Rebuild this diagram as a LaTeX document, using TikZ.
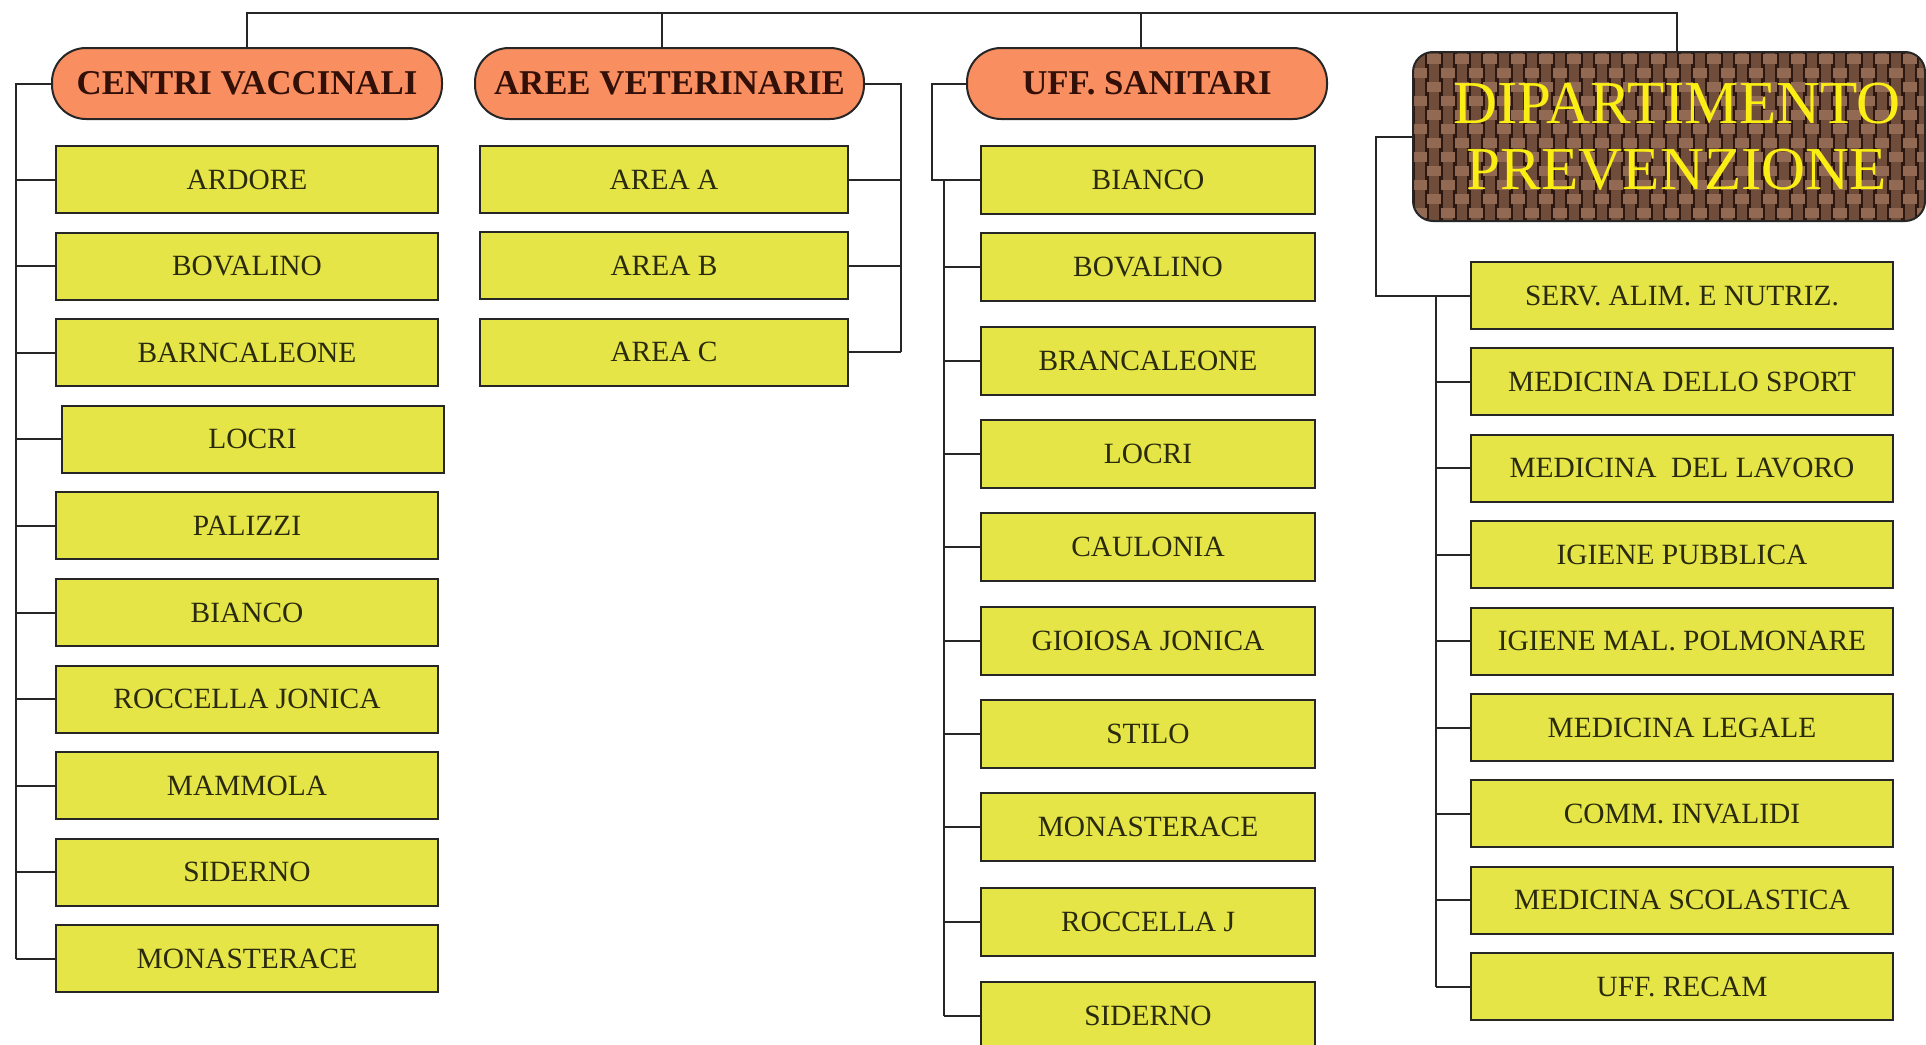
\documentclass[tikz,border=0pt]{standalone}
\usepackage{fontspec}
\setmainfont{Liberation Serif}
\definecolor{boxyellow}{RGB}{229,229,72}
\definecolor{pillorange}{RGB}{249,142,96}
\definecolor{weavedark}{RGB}{44,24,16}
\definecolor{weavemid}{RGB}{112,76,58}
\definecolor{weavelight}{RGB}{146,106,84}
\definecolor{deptyellow}{RGB}{250,238,20}
\definecolor{officetext}{RGB}{42,42,14}
\definecolor{pilltext}{RGB}{50,16,8}

\begin{document}
\begin{tikzpicture}[x=0.5pt,y=-0.5pt]
  \tikzstyle{every node}+=[inner sep=0pt]
  \tikzstyle{wire}=[line width=1pt,black!85]
  \tikzstyle{pill}=[draw=black!85,line width=1pt,fill=pillorange,rounded corners=17pt,minimum height=35.5pt,
    text=pilltext,font=\fontsize{17.4}{20}\selectfont\bfseries]
  \tikzstyle{office}=[draw=black!85,line width=1pt,fill=boxyellow,minimum height=33.5pt,
    text=officetext,font=\fontsize{14.7}{17}\selectfont]
  \tikzstyle{dept}=[draw=black!85,line width=1pt,rounded corners=10pt,align=center,text=deptyellow,
    font=\fontsize{30.5}{33}\selectfont]
  \clip (0,0) rectangle (1926,1044);
  \fill[white] (0,0) rectangle (1926,1044);

  % headings
  \node[pill,minimum width=195pt] (cv) at (247,83.5) {CENTRI VACCINALI};
  \node[pill,minimum width=194.5pt] (av) at (669.5,83.5) {AREE VETERINARIE};
  \node[pill,minimum width=180pt] (us) at (1147,83.5) {UFF. SANITARI};

  % woven background of the department box
  \begin{scope}
    \clip[rounded corners=10pt] (1413,52) rectangle (1925,221);
    \fill[weavedark] (1400,40) rectangle (1940,235);
    \foreach \x in {1420,1434,...,1926}
      \draw[weavemid,line width=5pt] (\x,40) -- (\x,235);
    \foreach \y [count=\k] in {59,73,...,226} {
      \pgfmathsetmacro\ph{mod(\k,2)*7}
      \draw[weavelight,line width=5pt,dash pattern=on 7pt off 7pt,dash phase=\ph pt] (1413,\y) -- (1940,\y);
    }
  \end{scope}
  \node[dept,minimum width=256pt,minimum height=84.5pt] (dp) at (1669,136.5) {\hspace*{8pt}DIPARTIMENTO\\\hspace*{8pt}PREVENZIONE};

  % top bar
  \coordinate (barl) at (247,13);
  \coordinate (barr) at (1677,13);
  \draw[wire] (cv.north) -- (barl) -- (barr) -- ([xshift=4pt]dp.north);
  \draw[wire] ([xshift=-3.75pt]av.north) |- (barl);
  \draw[wire] ([xshift=-3pt]us.north) |- (barl);

  % centri vaccinali
  \coordinate (cvbus) at (16,0);
  \foreach \name [count=\i] in {ARDORE,BOVALINO,BARNCALEONE,LOCRI,PALIZZI,BIANCO,ROCCELLA JONICA,MAMMOLA,SIDERNO,MONASTERACE} {
    \pgfmathsetmacro\dx{\i==4 ? 5.5 : 0}
    \node[office,minimum width=191pt] (cv\i) at (247+\dx,179.5+86.6*\i-86.6) {\name};
    \draw[wire] (cvbus |- cv\i.west) -- (cv\i.west);
  }
  \draw[wire] (cv.west) -| (cvbus |- cv10.west);

  % aree veterinarie
  \coordinate (avbus) at (901,0);
  \foreach \name/\y [count=\i] in {AREA A/179.5,AREA B/265.5,AREA C/352} {
    \node[office,minimum width=184pt] (av\i) at (664,\y) {\name};
    \draw[wire] (av\i.east) -- (avbus |- av\i.east);
  }
  \draw[wire] (av.east) -| (avbus |- av3.east);

  % uff. sanitari
  \coordinate (usbus) at (932,0);
  \coordinate (usspine) at (944,0);
  \foreach \name/\y [count=\i] in {BIANCO/180,BOVALINO/267,BRANCALEONE/361,LOCRI/454,CAULONIA/547,
      GIOIOSA JONICA/641,STILO/734,MONASTERACE/827,ROCCELLA J/922,SIDERNO/1016} {
    \node[office,minimum width=167pt,minimum height=34pt] (us\i) at (1148,\y) {\name};
    \draw[wire] (usspine |- us\i.west) -- (us\i.west);
  }
  \draw[wire] (us.west) -| (usbus |- us1.west) -- (us1.west);
  \draw[wire] (usspine |- us1.west) -- (usspine |- us10.west);

  % dipartimento prevenzione
  \coordinate (dpbus) at (1376,0);
  \coordinate (dpspine) at (1436,0);
  \foreach \name [count=\i] in {SERV. ALIM. E NUTRIZ.,MEDICINA DELLO SPORT,MEDICINA\ \ DEL LAVORO,IGIENE PUBBLICA,
      IGIENE MAL. POLMONARE,MEDICINA LEGALE,COMM. INVALIDI,MEDICINA SCOLASTICA,UFF. RECAM} {
    \node[office,minimum width=211pt] (dp\i) at (1682,295.5+86.4*\i-86.4) {\name};
    \draw[wire] (dpspine |- dp\i.west) -- (dp\i.west);
  }
  \draw[wire] (dp.west) -| (dpbus |- dp1.west) -- (dp1.west);
  \draw[wire] (dpspine |- dp1.west) -- (dpspine |- dp9.west);
\end{tikzpicture}
\end{document}
